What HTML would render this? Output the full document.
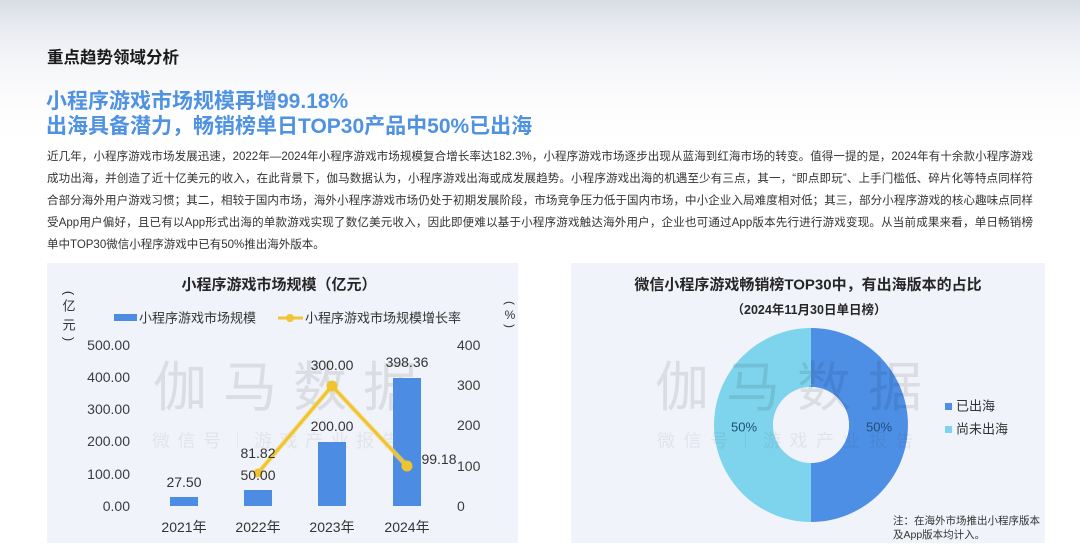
<!DOCTYPE html>
<html>
<head>
<meta charset="utf-8">
<style>
  html,body{margin:0;padding:0;}
  body{width:1080px;height:557px;position:relative;overflow:hidden;
    background:linear-gradient(180deg,#d8dde5 0px,#e7eaf0 25px,#f4f5f8 60px,#fcfcfd 100px,#ffffff 140px);
    font-family:"Liberation Sans","Noto Sans CJK SC",sans-serif;}
  .abs{position:absolute;white-space:nowrap;}
  .h1{left:47px;top:48px;font-size:16.5px;line-height:20px;font-weight:bold;color:#1a1a1a;}
  .t{left:46px;font-size:21px;line-height:25px;font-weight:bold;color:#4f92e2;}
  .p{left:47px;width:986px;font-size:11.5px;line-height:22px;color:#333;text-align:justify;text-align-last:justify;}
  .p5{text-align:left;text-align-last:left;}
</style>
</head>
<body>
<div class="abs h1">重点趋势领域分析</div>
<div class="abs t" style="top:89px;">小程序游戏市场规模再增99.18%</div>
<div class="abs t" style="top:114px;">出海具备潜力，畅销榜单日TOP30产品中50%已出海</div>

<div class="abs p" style="top:146px;">近几年，小程序游戏市场发展迅速，2022年—2024年小程序游戏市场规模复合增长率达182.3%，小程序游戏市场逐步出现从蓝海到红海市场的转变。值得一提的是，2024年有十余款小程序游戏</div>
<div class="abs p" style="top:168px;">成功出海，并创造了近十亿美元的收入，在此背景下，伽马数据认为，小程序游戏出海或成发展趋势。小程序游戏出海的机遇至少有三点，其一，“即点即玩”、上手门槛低、碎片化等特点同样符</div>
<div class="abs p" style="top:190px;">合部分海外用户游戏习惯；其二，相较于国内市场，海外小程序游戏市场仍处于初期发展阶段，市场竞争压力低于国内市场，中小企业入局难度相对低；其三，部分小程序游戏的核心趣味点同样</div>
<div class="abs p" style="top:212px;">受App用户偏好，且已有以App形式出海的单款游戏实现了数亿美元收入，因此即便难以基于小程序游戏触达海外用户，企业也可通过App版本先行进行游戏变现。从当前成果来看，单日畅销榜</div>
<div class="abs p p5" style="top:234px;">单中TOP30微信小程序游戏中已有50%推出海外版本。</div>

<svg class="abs" style="left:0;top:0;" width="1080" height="557" viewBox="0 0 1080 557" xmlns="http://www.w3.org/2000/svg" font-family="Liberation Sans, Noto Sans CJK SC, sans-serif">
  <!-- panels -->
  <rect x="47" y="263" width="471" height="280" fill="#f1f3fa"/>
  <rect x="571" y="263" width="474" height="280" fill="#f1f3fa"/>

  <!-- LEFT CHART -->
  <text x="279" y="285" font-size="15" font-weight="bold" fill="#262626" text-anchor="middle" dominant-baseline="central">小程序游戏市场规模（亿元）</text>
  <!-- left unit -->
  <text x="69" y="293" font-size="13" fill="#333" text-anchor="middle" dominant-baseline="central" transform="rotate(90 69 293)">(</text>
  <text x="69" y="306" font-size="13" fill="#333" text-anchor="middle" dominant-baseline="central">亿</text>
  <text x="69" y="325" font-size="13" fill="#333" text-anchor="middle" dominant-baseline="central">元</text>
  <text x="69" y="339" font-size="13" fill="#333" text-anchor="middle" dominant-baseline="central" transform="rotate(90 69 339)">)</text>
  <!-- right unit -->
  <text x="510" y="303" font-size="12" fill="#333" text-anchor="middle" dominant-baseline="central" transform="rotate(90 510 303)">(</text>
  <text x="510" y="315" font-size="12" fill="#333" text-anchor="middle" dominant-baseline="central">%</text>
  <text x="510" y="326" font-size="12" fill="#333" text-anchor="middle" dominant-baseline="central" transform="rotate(90 510 326)">)</text>

  <!-- legend -->
  <rect x="114" y="314" width="23" height="7" fill="#4c8ce2"/>
  <text x="139" y="318" font-size="13" fill="#333" dominant-baseline="central">小程序游戏市场规模</text>
  <line x1="278" y1="318" x2="303" y2="318" stroke="#f0c53a" stroke-width="3"/>
  <circle cx="290" cy="318" r="4" fill="#f0c53a"/>
  <text x="305" y="318" font-size="13" fill="#333" dominant-baseline="central">小程序游戏市场规模增长率</text>

  <!-- watermark left -->
  <text x="153" y="388" font-size="54" letter-spacing="16" fill="#000" opacity="0.085" dominant-baseline="central">伽马数据</text>
  <text x="152" y="441" font-size="18" letter-spacing="7.5" fill="#000" opacity="0.06" dominant-baseline="central">微信号｜游戏产业报告</text>

  <!-- left axis labels -->
  <g font-size="14" fill="#3c3c3c" text-anchor="end" dominant-baseline="central">
    <text x="130" y="345">500.00</text>
    <text x="130" y="377">400.00</text>
    <text x="130" y="409">300.00</text>
    <text x="130" y="441">200.00</text>
    <text x="130" y="474">100.00</text>
    <text x="130" y="506">0.00</text>
  </g>
  <!-- right axis labels -->
  <g font-size="14" fill="#3c3c3c" dominant-baseline="central">
    <text x="457" y="345">400</text>
    <text x="457" y="385">300</text>
    <text x="457" y="425">200</text>
    <text x="457" y="466">100</text>
    <text x="457" y="506">0</text>
  </g>

  <!-- bars -->
  <g fill="#4c8ce2">
    <rect x="170" y="497" width="28" height="9"/>
    <rect x="244" y="490" width="28" height="16"/>
    <rect x="318" y="442" width="28" height="64"/>
    <rect x="393" y="378" width="28" height="128"/>
  </g>

  <!-- line -->
  <polyline points="258,473 332,386 407,466" fill="none" stroke="#f6d97a" stroke-width="5" stroke-linejoin="round" opacity="0.6"/>
  <polyline points="258,473 332,386 407,466" fill="none" stroke="#f0c42f" stroke-width="3" stroke-linejoin="round"/>
  <circle cx="258" cy="473" r="4.5" fill="#f0c42f"/>
  <circle cx="332" cy="386" r="5.5" fill="#f0c42f"/>
  <circle cx="407" cy="466" r="5.5" fill="#f0c42f"/>

  <!-- data labels -->
  <g font-size="14" fill="#333" text-anchor="middle" dominant-baseline="central">
    <text x="184" y="482">27.50</text>
    <text x="258" y="475">50.00</text>
    <text x="258" y="453">81.82</text>
    <text x="332" y="426">200.00</text>
    <text x="332" y="365">300.00</text>
    <text x="407" y="362">398.36</text>
    <text x="439" y="459">99.18</text>
  </g>

  <!-- x labels -->
  <g font-size="14" fill="#333" text-anchor="middle" dominant-baseline="central">
    <text x="184" y="527">2021年</text>
    <text x="258" y="527">2022年</text>
    <text x="332" y="527">2023年</text>
    <text x="407" y="527">2024年</text>
  </g>

  <!-- RIGHT CHART -->
  <text x="808" y="285" font-size="15" font-weight="bold" fill="#262626" text-anchor="middle" dominant-baseline="central">微信小程序游戏畅销榜TOP30中，有出海版本的占比</text>
  <text x="809" y="310" font-size="12.5" font-weight="bold" fill="#262626" text-anchor="middle" dominant-baseline="central">（2024年11月30日单日榜）</text>

  <!-- donut: center 811,425 R97 r38 -->
  <path d="M811,328 A97,97 0 0 1 811,522 L811,463 A38,38 0 0 0 811,387 Z" fill="#4e8fe6"/>
  <path d="M811,328 A97,97 0 0 0 811,522 L811,463 A38,38 0 0 1 811,387 Z" fill="#7ed4ec"/>
  <circle cx="811" cy="425" r="38" fill="#f1f3fa"/>

  <!-- watermark right -->
  <text x="655" y="388" font-size="54" letter-spacing="17" fill="#000" opacity="0.085" dominant-baseline="central">伽马数据</text>
  <text x="657" y="441" font-size="18" letter-spacing="8.5" fill="#000" opacity="0.06" dominant-baseline="central">微信号｜游戏产业报告</text>

  <text x="744" y="427" font-size="13" fill="#1f4e79" text-anchor="middle" dominant-baseline="central">50%</text>
  <text x="879" y="427" font-size="13" fill="#1f4e79" text-anchor="middle" dominant-baseline="central">50%</text>

  <!-- legend right -->
  <rect x="945" y="403" width="7" height="7" fill="#4e8fe6"/>
  <text x="956" y="406" font-size="13" fill="#333" dominant-baseline="central">已出海</text>
  <rect x="945" y="426" width="7" height="7" fill="#7ed4ec"/>
  <text x="956" y="429" font-size="13" fill="#333" dominant-baseline="central">尚未出海</text>

  <!-- note -->
  <text x="893" y="521" font-size="10.5" fill="#333" dominant-baseline="central">注：在海外市场推出小程序版本</text>
  <text x="893" y="535" font-size="10.5" fill="#333" dominant-baseline="central">及App版本均计入。</text>
</svg>
</body>
</html>
